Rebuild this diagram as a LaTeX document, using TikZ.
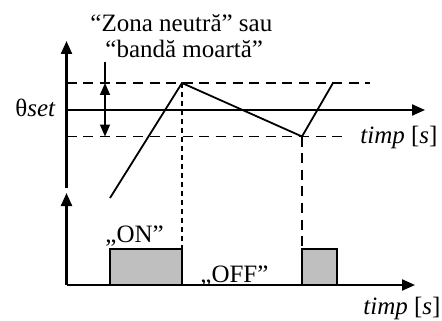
\documentclass[tikz,border=0pt]{standalone}
\usepackage{fontspec}
\setmainfont{Liberation Serif}
\usetikzlibrary{arrows.meta}
\tikzset{
  axis/.style={line width=1.1pt,-{Triangle[length=6.5pt,width=5.5pt]}},
  level/.style={line width=0.95pt,dash pattern=on 5pt off 3.3pt},
  drop/.style={line width=0.6pt,dash pattern=on 2.5pt off 2pt},
  signal/.style={line width=0.9pt},
  pulse/.style={draw,line width=0.85pt,fill=black!25},
  band/.style={line width=0.8pt,{Triangle[length=6pt,width=5pt]}-{Triangle[length=6pt,width=5pt]}},
  lbl/.style={inner sep=0pt,anchor=base west,font=\fontsize{12.5}{15}\selectfont}
}
\begin{document}
\begin{tikzpicture}[x=0.5pt,y=-0.5pt]
\useasboundingbox (0,0) rectangle (442,320);
% upper plot: temperature against time
\coordinate (o1) at (66.5,188);
\coordinate (y1) at (66.5,41);
\coordinate (y1b) at (66.5,55);
\coordinate (s0) at (66.5,110);
\coordinate (x1) at (425,110);
\draw[line width=1.1pt] (o1) -- (y1b);
\draw[axis] (y1b) -- (y1);
\draw[axis] (s0) -- (x1);
% dead band limits
\coordinate (hi0) at (66.5,83);
\coordinate (hi1) at (370,83);
\coordinate (lo0) at (66.5,136.5);
\coordinate (lo1) at (345,136.5);
\draw[level] (hi0) -- (hi1);
\draw[level] (lo0) -- (lo1);
% band width marker
\coordinate (m0) at (105,62);
\coordinate (mhi) at (105,83);
\coordinate (mlo) at (105,136.5);
\draw[line width=0.8pt] (m0) -- (mhi);
\draw[band] (mhi) -- (mlo);
% temperature curve
\coordinate (t0) at (110,198);
\coordinate (p1) at (182,83);
\coordinate (p2) at (302,136.5);
\coordinate (p3) at (333,83);
\draw[signal,line join=miter] (t0) -- (p1) -- (p2) -- (p3);
% lower plot: relay state
\coordinate (o2) at (66.5,285);
\coordinate (y2) at (66.5,193);
\coordinate (x2) at (415,285);
\draw[axis] (o2) -- (y2);
\draw[axis] (o2) -- (x2);
\coordinate (a0) at (110,285);
\coordinate (d1) at (182,249);
\coordinate (d2) at (302,249);
\coordinate (b1) at (337,285);
\draw[pulse] (a0) rectangle (d1);
\draw[pulse] (d2) rectangle (b1);
\draw[drop] (p1) -- (d1);
\draw[level,line width=0.75pt] (p2) -- (d2);
% labels
\node[lbl] (zn) at (90,32) {“Zona neutră” sau};
\node[lbl] (bm) at (105,58) {“bandă moartă”};
\node[lbl] (th) at (15,117) {θ\textit{set}};
\node[lbl] (t1) at (360,143) {\textit{timp} [\textit{s}]};
\node[lbl] (on) at (105,242) {„ON”};
\node[lbl] (off) at (200,282) {„OFF”};
\node[lbl] (t2) at (363,314) {\textit{timp} [\textit{s}]};
\end{tikzpicture}
\end{document}
